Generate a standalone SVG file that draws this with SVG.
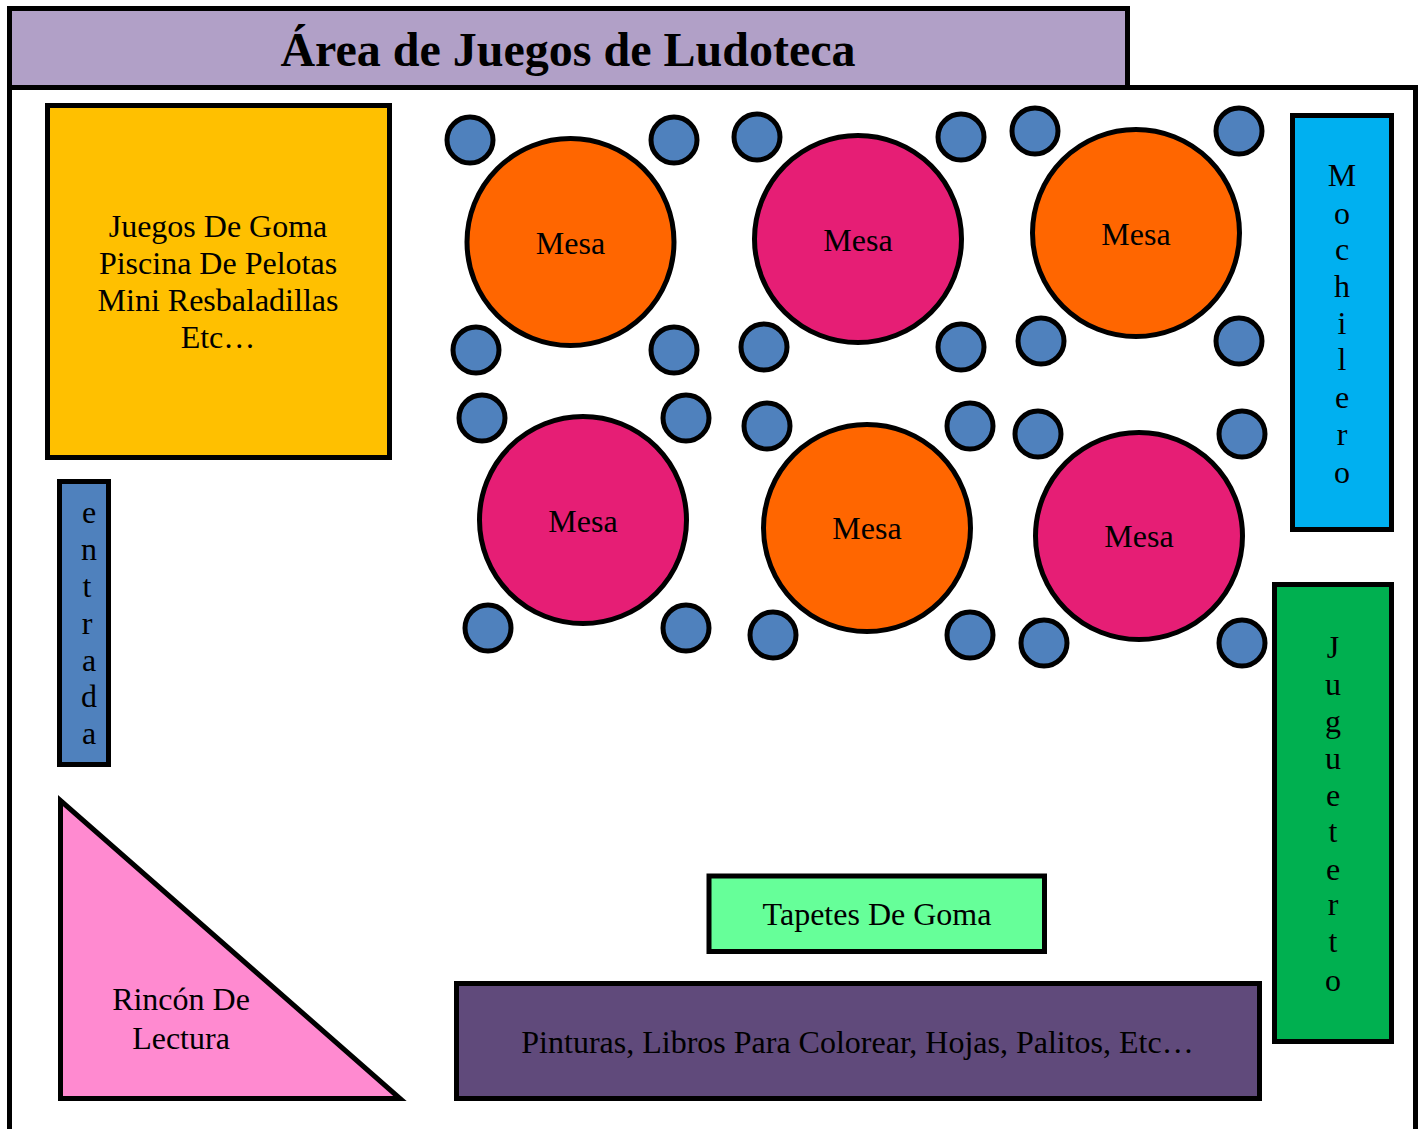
<svg xmlns="http://www.w3.org/2000/svg" width="1422" height="1129" viewBox="0 0 1422 1129">
<style>
text{font-family:"Liberation Serif","Times New Roman",serif;fill:#000;text-anchor:middle;font-size:32px}
.s{stroke:#000;stroke-width:5}
.ch{fill:#4f81bd;stroke:#000;stroke-width:5}
.or{fill:#ff6600;stroke:#000;stroke-width:5}
.pk{fill:#e61e75;stroke:#000;stroke-width:5}
</style>
<rect width="1422" height="1129" fill="#fff"/>
<g id="room"><path d="M9.500 1129V87.500H1415.500V1129" fill="#fff" class="s"/></g>
<g id="title"><rect x="9.500" y="8.500" width="1118" height="79" fill="#b1a0c7" class="s"/><text x="568" y="65.500" style="font-size:48px;font-weight:bold">Área de Juegos de Ludoteca</text></g>
<g id="juegos"><rect x="47.500" y="105.500" width="342" height="352" fill="#ffc000" class="s"/>
<text x="218" y="237">Juegos De Goma</text><text x="218" y="274">Piscina De Pelotas</text><text x="218" y="311">Mini Resbaladillas</text><text x="218" y="348">Etc…</text></g>
<g id="mesa1"><circle cx="570.500" cy="242" r="103.500" class="or"/><circle cx="470" cy="140" r="23" class="ch"/><circle cx="674" cy="140" r="23" class="ch"/><circle cx="476" cy="350" r="23" class="ch"/><circle cx="674" cy="350" r="23" class="ch"/><text x="570.500" y="254">Mesa</text></g>
<g id="mesa2"><circle cx="858" cy="239" r="103.500" class="pk"/><circle cx="757" cy="137" r="23" class="ch"/><circle cx="961" cy="137" r="23" class="ch"/><circle cx="764" cy="347" r="23" class="ch"/><circle cx="961" cy="347" r="23" class="ch"/><text x="858" y="251">Mesa</text></g>
<g id="mesa3"><circle cx="1136" cy="233" r="103.500" class="or"/><circle cx="1035" cy="131" r="23" class="ch"/><circle cx="1239" cy="131" r="23" class="ch"/><circle cx="1041" cy="341" r="23" class="ch"/><circle cx="1239" cy="341" r="23" class="ch"/><text x="1136" y="245">Mesa</text></g>
<g id="mesa4"><circle cx="583" cy="520" r="103.500" class="pk"/><circle cx="482" cy="418" r="23" class="ch"/><circle cx="686" cy="418" r="23" class="ch"/><circle cx="488" cy="628" r="23" class="ch"/><circle cx="686" cy="628" r="23" class="ch"/><text x="583" y="532">Mesa</text></g>
<g id="mesa5"><circle cx="867" cy="528" r="103.500" class="or"/><circle cx="767" cy="426" r="23" class="ch"/><circle cx="970" cy="426" r="23" class="ch"/><circle cx="773" cy="635" r="23" class="ch"/><circle cx="970" cy="635" r="23" class="ch"/><text x="867" y="539">Mesa</text></g>
<g id="mesa6"><circle cx="1139" cy="536" r="103.500" class="pk"/><circle cx="1038" cy="434" r="23" class="ch"/><circle cx="1242" cy="434" r="23" class="ch"/><circle cx="1044" cy="643" r="23" class="ch"/><circle cx="1242" cy="643" r="23" class="ch"/><text x="1139" y="547">Mesa</text></g>
<g id="mochilero"><rect x="1292.500" y="115.500" width="99" height="414" fill="#00b0f0" class="s"/>
<text x="1342" y="186">M</text><text x="1342" y="224">o</text><text x="1342" y="260">c</text><text x="1342" y="297">h</text><text x="1342" y="334">i</text><text x="1342" y="370">l</text><text x="1342" y="408">e</text><text x="1342" y="445">r</text><text x="1342" y="483">o</text></g>
<g id="juguetero"><rect x="1274.500" y="584.500" width="117" height="457" fill="#00b050" class="s"/>
<text x="1333" y="658">J</text><text x="1333" y="695">u</text><text x="1333" y="732">g</text><text x="1333" y="769">u</text><text x="1333" y="806">e</text><text x="1333" y="842">t</text><text x="1333" y="880">e</text><text x="1333" y="915">r</text><text x="1333" y="952">t</text><text x="1333" y="991">o</text></g>
<g id="entrada"><rect x="59.500" y="481.500" width="49" height="283" fill="#4f81bd" class="s"/>
<text x="89" y="523">e</text><text x="89" y="560">n</text><text x="87" y="597">t</text><text x="87" y="634">r</text><text x="89" y="671">a</text><text x="89" y="707">d</text><text x="89" y="744">a</text></g>
<g id="rincon"><path d="M60.500 800.500V1098.500H400Z" fill="#ff8ad0" class="s"/><text x="181" y="1010">Rincón De</text><text x="181" y="1048.500">Lectura</text></g>
<g id="tapetes"><rect x="709" y="876" width="335.500" height="75.500" fill="#66ff99" class="s"/><text x="877" y="925">Tapetes De Goma</text></g>
<g id="pinturas"><rect x="456.500" y="983.500" width="803" height="115" fill="#604a7b" class="s"/><text x="857.500" y="1053">Pinturas, Libros Para Colorear, Hojas, Palitos, Etc…</text></g>
<g id="connectors"/>
</svg>
